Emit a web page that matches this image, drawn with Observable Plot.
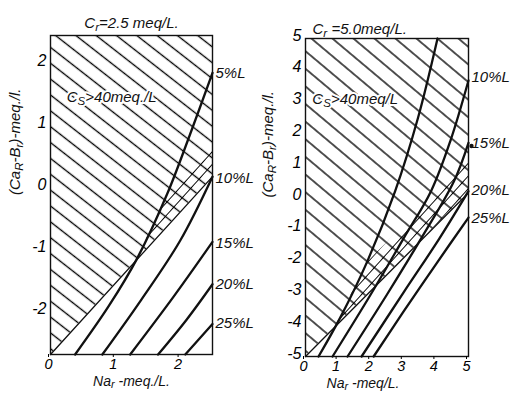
<!DOCTYPE html>
<html><head><meta charset="utf-8">
<script src="https://cdn.jsdelivr.net/npm/d3@7"></script>
<script src="https://cdn.jsdelivr.net/npm/@observablehq/plot@0.6"></script>
<style>
body{margin:0;background:#fff;}
#wrap{display:flex;width:511px;height:395px;overflow:hidden;}
svg text{font-family:"Liberation Sans Narrow","Liberation Sans",sans-serif;font-style:italic;}
</style></head><body><div id="wrap"></div>
<script>
// ---------- data ----------
const curveNames = ["5%L", "10%L", "15%L", "20%L", "25%L"];

// Left panel: Cr = 2.5 meq/L
const leftXTicks = [0, 1, 2];
const leftYTicks = [-2, -1, 0, 1, 2];
const left5  = [[0.38,-2.68],[0.9,-1.9],[1.34,-1.13],[1.8,-0.1],[2.15,0.85],[2.5,1.85]];
const left10 = [[0.8,-2.68],[1.4,-1.8],[2.0,-0.85],[2.5,0.18]];
const left15 = [[1.23,-2.68],[1.9,-1.75],[2.5,-0.87]];
const left20 = [[1.66,-2.68],[2.1,-2.12],[2.5,-1.55]];
const left25 = [[2.08,-2.68],[2.5,-2.19]];
const leftBoundX = [0, 2.5];
const leftBoundY = [-2.68, 0.18];
const leftStripX = [1.34, 1.7, 2.5];
const leftStripLow = [-1.15, -0.73, 0.18];
const leftStripHigh = [-1.15, -0.33, 0.6];
const leftLabelNames = ["5%L", "10%L", "15%L", "20%L", "25%L"];
const leftLabelY = [1.85, 0.15, -0.89, -1.55, -2.18];

// Right panel: Cr = 5.0 meq/L
const rightXTicks = [0, 1, 2, 3, 4, 5];
const rightYTicks = [-5, -4, -3, -2, -1, 0, 1, 2, 3, 4, 5];
const right5  = [[0.4,-5],[1.07,-3.77],[1.9,-2.0],[2.75,0.2],[3.45,2.5],[4.05,5]];
const right10 = [[0.83,-5],[2.0,-3.05],[3.0,-1.3],[3.85,0.2],[4.45,1.8],[5,3.68]];
const right15 = [[1.29,-5],[2.5,-3.05],[3.6,-1.2],[4.55,0.5],[5,1.72]];
const right20 = [[1.72,-5],[3.0,-3.0],[4.1,-1.3],[5,0.2]];
const right25 = [[2.09,-5],[3.0,-3.6],[4.0,-2.1],[5,-0.63]];
const rightBoundX = [0, 5];
const rightBoundY = [-5, 0.15];
const rightStripX = [0.92, 1.5, 1.95, 5];
const rightStripLow = [-4.05, -3.46, -2.99, 0.15];
const rightStripHigh = [-4.05, -2.85, -1.99, 1.15];
const rightLabelNames = ["10%L", "15%L", "20%L", "25%L"];
const rightLabelY = [3.77, 1.7, 0.22, -0.66];
const rightDot = [[5, 1.62]];

// ---------- helpers ----------
function curveRows(curves) {
  const rows = [];
  curves.forEach((pts, i) => pts.forEach(([x, y]) => rows.push({x, y, name: curveNames[i]})));
  return rows;
}
function addPattern(svg, id, angle, spacing, sw) {
  const defs = d3.select(svg).insert("defs", ":first-child");
  const p = defs.append("pattern").attr("id", id)
    .attr("patternUnits", "userSpaceOnUse")
    .attr("width", spacing).attr("height", spacing)
    .attr("patternTransform", `rotate(${angle})`);
  p.append("line").attr("x1", -1).attr("y1", spacing / 2).attr("x2", spacing + 1).attr("y2", spacing / 2)
    .attr("stroke", "#000").attr("stroke-width", sw);
}
function applySubs(svg) {
  d3.select(svg).selectAll("text, tspan").each(function () {
    if (this.children.length) return;
    const t = this.textContent;
    if (!t.includes("_{")) return;
    const parts = t.split(/_\{([^}]*)\}/);
    this.textContent = "";
    parts.forEach((p, i) => {
      if (!p) return;
      const ts = d3.select(this).append("tspan").text(p);
      if (i % 2 === 1) ts.attr("baseline-shift", "-22%").attr("font-size", "78%");
    });
  });
}

function panel(o) {
  const bound = o.boundX.map((x, i) => ({x, y: o.boundY[i]}));
  const strip = o.stripX.map((x, i) => ({x, lo: o.stripLow[i], hi: o.stripHigh[i]}));
  const labels = o.labelNames.map((t, i) => ({t, y: o.labelY[i]}));
  const svg = Plot.plot({
    width: o.width, height: 395,
    marginLeft: 50, marginRight: o.width - o.frameRight, marginTop: o.marginTop, marginBottom: o.marginBottom,
    x: {domain: o.xDomain},
    y: {domain: o.yDomain},
    marks: [
      Plot.areaY(bound, {x: "x", y1: "y", y2: o.yDomain[1], fill: `url(#${o.id}h)`}),
      Plot.areaY(strip, {x: "x", y1: "lo", y2: "hi", fill: `url(#${o.id}s)`}),
      Plot.line(bound, {x: "x", y: "y", stroke: "#111", strokeWidth: 1.3}),
      Plot.line(curveRows(o.curves), {x: "x", y: "y", z: "name", stroke: "#111", strokeWidth: 2.3, curve: "catmull-rom"}),
      Plot.frame({stroke: "#111", strokeWidth: 1.4}),
      Plot.axisX(o.xTicks, {tickSize: 3, tickPadding: 1, fontSize: 14.5, label: null, tickFormat: d => String(d), dx: -2}),
      Plot.axisY(o.yTicks, {tickSize: 0, tickPadding: 4, fontSize: 16, label: null, tickFormat: d => String(d), dy: -3}),
      Plot.text(labels, {x: o.xDomain[1], y: "y", text: "t", textAnchor: "start", dx: 3, fontSize: 15, fill: "#111"}),
      Plot.text([o.title], {frameAnchor: o.titleAnchor, lineAnchor: "middle", dx: o.titleDx, dy: o.titleDy, text: d => d, textAnchor: o.titleAnchor === "top" ? "middle" : "start", fontSize: 15, fill: "#111"}),
      Plot.text([o.region], {x: o.regionX, y: o.regionY, text: d => d, textAnchor: "start", fontSize: 15, fill: "#111", stroke: "white", strokeWidth: 4}),
      Plot.text([o.yLabel], {frameAnchor: "left", dx: o.yLabelDx, rotate: -90, text: d => d, fontSize: 15, fill: "#111"}),
      Plot.text([o.xLabel], {frameAnchor: "bottom", lineAnchor: "middle", dy: o.xLabelDy, dx: o.xLabelDx, text: d => d, fontSize: 14, fill: "#111"}),
      ...(o.dot ? [Plot.dot(o.dot, {x: d => d[0], y: d => d[1], r: 2.2, fill: "#111", dx: 3})] : [])
    ]
  });
  addPattern(svg, o.id + "h", o.hAngle, o.hSpacing, 1.35);
  addPattern(svg, o.id + "s", -48, 8.5, 1.0);
  applySubs(svg);
  return svg;
}

const wrap = document.getElementById("wrap");
wrap.appendChild(panel({
  id: "L", width: 255, frameRight: 212, marginTop: 35, marginBottom: 41,
  xDomain: [0, 2.5], yDomain: [-2.68, 2.45],
  xTicks: leftXTicks, yTicks: leftYTicks,
  curves: [left5, left10, left15, left20, left25],
  boundX: leftBoundX, boundY: leftBoundY,
  stripX: leftStripX, stripLow: leftStripLow, stripHigh: leftStripHigh,
  labelNames: leftLabelNames, labelY: leftLabelY,
  title: "C_{r}=2.5 meq/L.", titleAnchor: "top", titleDx: 0, titleDy: -12,
  region: "C_{S}>40meq./L", regionX: 0.25, regionY: 1.45,
  yLabel: "(Ca_{R}-B_{r})-meq./l.", yLabelDx: -35,
  xLabel: "Na_{r} -meq./L.", xLabelDx: 0, xLabelDy: 27,
  hAngle: 38, hSpacing: 12.5
}));
wrap.appendChild(panel({
  id: "R", width: 256, frameRight: 213, marginTop: 38, marginBottom: 39,
  xDomain: [0, 5], yDomain: [-5, 5],
  xTicks: rightXTicks, yTicks: rightYTicks,
  curves: [right5, right10, right15, right20, right25],
  boundX: rightBoundX, boundY: rightBoundY,
  stripX: rightStripX, stripLow: rightStripLow, stripHigh: rightStripHigh,
  labelNames: rightLabelNames, labelY: rightLabelY,
  title: "C_{r} =5.0meq/L.", titleAnchor: "top-left", titleDx: 7, titleDy: -9,
  region: "C_{S}>40meq/L", regionX: 0.21, regionY: 3.1,
  yLabel: "(Ca_{R}-B_{r})-meq./l.", yLabelDx: -37,
  xLabel: "Na_{r} -meq/L.", xLabelDx: -24, xLabelDy: 27,
  hAngle: 40, hSpacing: 13.5,
  dot: rightDot
}));
</script></body></html>
